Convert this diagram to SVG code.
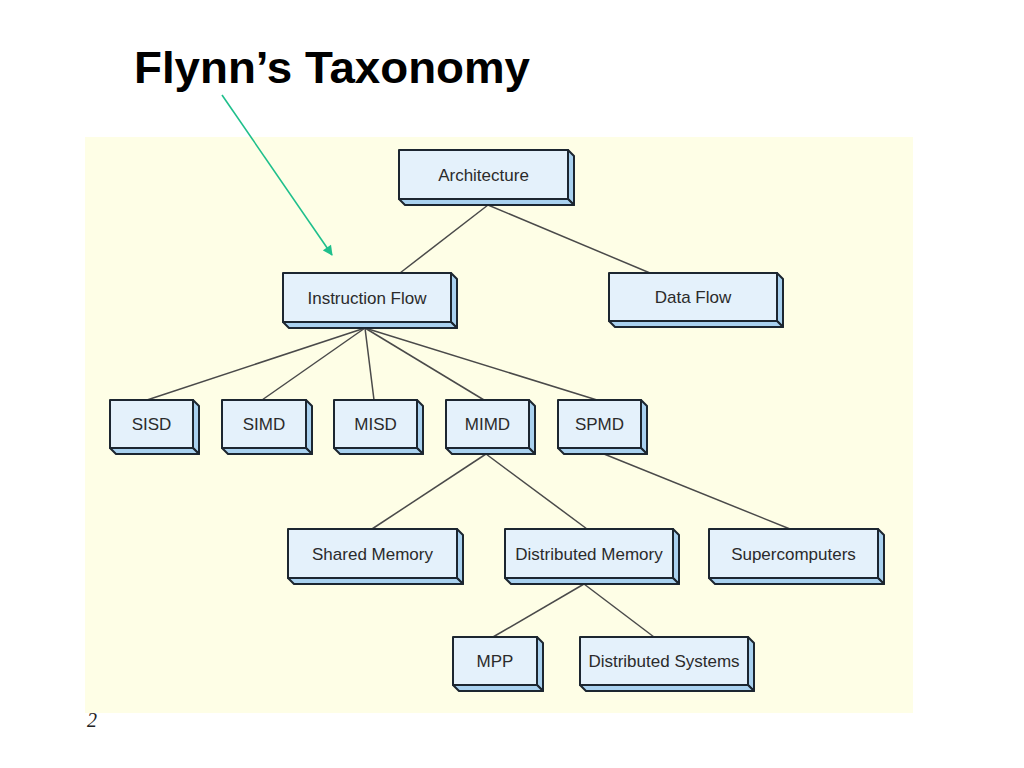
<svg xmlns="http://www.w3.org/2000/svg" width="1024" height="768" viewBox="0 0 1024 768">
<defs>
<style>
.front{fill:#e4f1fb;stroke:#1c2630;stroke-width:2;stroke-linejoin:round}
.side{fill:#a9d1ef;stroke:#1c2630;stroke-width:2;stroke-linejoin:round}
.lbl{font-family:"Liberation Sans",Arial,sans-serif;font-size:17px;fill:#2b2b2b;text-anchor:middle}
.conn{stroke:#4a4a4a;stroke-width:1.5;fill:none}
</style>
<marker id="ah" viewBox="0 0 10 10" refX="9" refY="5" markerWidth="11" markerHeight="10" orient="auto" markerUnits="userSpaceOnUse">
<path d="M0,0 L10,5 L0,10 z" fill="#1fbf8c"/>
</marker>
</defs>
<rect width="1024" height="768" fill="#ffffff"/>
<text x="87" y="727" font-family="'Liberation Serif',serif" font-style="italic" font-size="20" fill="#222">2</text>
<rect x="85" y="137" width="828" height="576" fill="#fefee6"/>
<text x="134" y="83" font-family="'Liberation Sans',Arial,sans-serif" font-weight="bold" font-size="45" textLength="396" lengthAdjust="spacingAndGlyphs" fill="#000">Flynn’s Taxonomy</text>
<line x1="222" y1="95" x2="332" y2="255" stroke="#1fbf8c" stroke-width="1.6" marker-end="url(#ah)"/>
<g id="connectors">
<line class="conn" x1="488" y1="205" x2="400" y2="273"/>
<line class="conn" x1="488" y1="205" x2="650" y2="273"/>
<line class="conn" x1="365" y1="328" x2="147" y2="400"/>
<line class="conn" x1="365" y1="328" x2="262" y2="400"/>
<line class="conn" x1="365" y1="328" x2="374" y2="400"/>
<line class="conn" x1="365" y1="328" x2="484" y2="400"/>
<line class="conn" x1="365" y1="328" x2="597" y2="400"/>
<line class="conn" x1="486" y1="454" x2="372" y2="529"/>
<line class="conn" x1="486" y1="454" x2="587" y2="529"/>
<line class="conn" x1="604" y1="454" x2="790" y2="529"/>
<line class="conn" x1="584" y1="584" x2="493" y2="637"/>
<line class="conn" x1="584" y1="584" x2="654" y2="637"/>
</g>
<g id="architecture">
<polygon class="side" points="568,150 574,156 574,205 568,199"/>
<polygon class="side" points="399,199 568,199 574,205 405,205"/>
<rect class="front" x="399" y="150" width="169" height="49"/>
<text class="lbl" x="483.5" y="181">Architecture</text>
</g>
<g id="instruction-flow">
<polygon class="side" points="451,273 457,279 457,328 451,322"/>
<polygon class="side" points="283,322 451,322 457,328 289,328"/>
<rect class="front" x="283" y="273" width="168" height="49"/>
<text class="lbl" x="367" y="304">Instruction Flow</text>
</g>
<g id="data-flow">
<polygon class="side" points="777,273 783,279 783,327 777,321"/>
<polygon class="side" points="609,321 777,321 783,327 615,327"/>
<rect class="front" x="609" y="273" width="168" height="48"/>
<text class="lbl" x="693" y="303">Data Flow</text>
</g>
<g id="sisd">
<polygon class="side" points="193,400 199,406 199,454 193,448"/>
<polygon class="side" points="110,448 193,448 199,454 116,454"/>
<rect class="front" x="110" y="400" width="83" height="48"/>
<text class="lbl" x="151.5" y="430">SISD</text>
</g>
<g id="simd">
<polygon class="side" points="306,400 312,406 312,454 306,448"/>
<polygon class="side" points="222,448 306,448 312,454 228,454"/>
<rect class="front" x="222" y="400" width="84" height="48"/>
<text class="lbl" x="264" y="430">SIMD</text>
</g>
<g id="misd">
<polygon class="side" points="417,400 423,406 423,454 417,448"/>
<polygon class="side" points="334,448 417,448 423,454 340,454"/>
<rect class="front" x="334" y="400" width="83" height="48"/>
<text class="lbl" x="375.5" y="430">MISD</text>
</g>
<g id="mimd">
<polygon class="side" points="529,400 535,406 535,454 529,448"/>
<polygon class="side" points="446,448 529,448 535,454 452,454"/>
<rect class="front" x="446" y="400" width="83" height="48"/>
<text class="lbl" x="487.5" y="430">MIMD</text>
</g>
<g id="spmd">
<polygon class="side" points="641,400 647,406 647,454 641,448"/>
<polygon class="side" points="558,448 641,448 647,454 564,454"/>
<rect class="front" x="558" y="400" width="83" height="48"/>
<text class="lbl" x="599.5" y="430">SPMD</text>
</g>
<g id="shared-memory">
<polygon class="side" points="457,529 463,535 463,584 457,578"/>
<polygon class="side" points="288,578 457,578 463,584 294,584"/>
<rect class="front" x="288" y="529" width="169" height="49"/>
<text class="lbl" x="372.5" y="560">Shared Memory</text>
</g>
<g id="distributed-memory">
<polygon class="side" points="673,529 679,535 679,584 673,578"/>
<polygon class="side" points="505,578 673,578 679,584 511,584"/>
<rect class="front" x="505" y="529" width="168" height="49"/>
<text class="lbl" x="589" y="560">Distributed Memory</text>
</g>
<g id="supercomputers">
<polygon class="side" points="878,529 884,535 884,584 878,578"/>
<polygon class="side" points="709,578 878,578 884,584 715,584"/>
<rect class="front" x="709" y="529" width="169" height="49"/>
<text class="lbl" x="793.5" y="560">Supercomputers</text>
</g>
<g id="mpp">
<polygon class="side" points="537,637 543,643 543,691 537,685"/>
<polygon class="side" points="453,685 537,685 543,691 459,691"/>
<rect class="front" x="453" y="637" width="84" height="48"/>
<text class="lbl" x="495" y="667">MPP</text>
</g>
<g id="distributed-systems">
<polygon class="side" points="748,637 754,643 754,691 748,685"/>
<polygon class="side" points="580,685 748,685 754,691 586,691"/>
<rect class="front" x="580" y="637" width="168" height="48"/>
<text class="lbl" x="664" y="667">Distributed Systems</text>
</g>
</svg>
